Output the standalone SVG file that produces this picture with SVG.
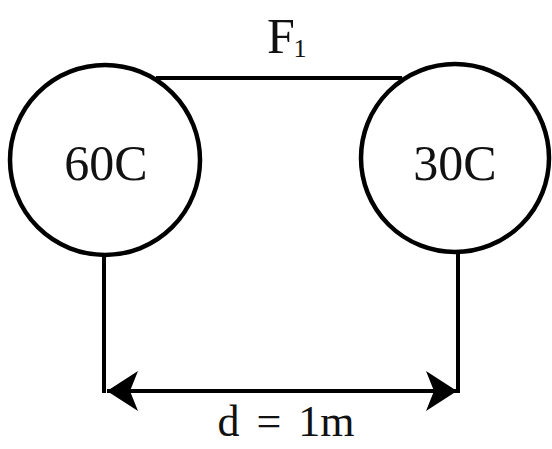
<svg xmlns="http://www.w3.org/2000/svg" width="552" height="449" viewBox="0 0 552 449">
<style>
.node{fill:none;stroke:#000;stroke-width:4.5}
.ln{fill:none;stroke:#000;stroke-width:4}
.t{font-family:"Liberation Serif","Times New Roman",serif;fill:#111;text-anchor:middle}
</style>
<defs>
<marker id="ah" viewBox="0 0 34 42" refX="33" refY="21" markerWidth="34" markerHeight="42" markerUnits="userSpaceOnUse" orient="auto-start-reverse">
<path d="M33,21 L2,1 L10,21 L2,41 Z" fill="#000"/>
</marker>
</defs>
<rect width="552" height="449" fill="#fff"/>
<g id="connectors">
<line class="ln" x1="156" y1="78" x2="402" y2="78"/>
<line class="ln" x1="104" y1="254" x2="104" y2="393"/>
<line class="ln" x1="458" y1="252" x2="458" y2="393"/>
<line class="ln" x1="107" y1="391" x2="457" y2="391" marker-start="url(#ah)" marker-end="url(#ah)"/>
</g>
<g id="charge1">
<circle class="node" cx="105" cy="160" r="95"/>
<text class="t" x="106" y="180" font-size="50">60C</text>
</g>
<g id="charge2">
<circle class="node" cx="455" cy="158" r="94"/>
<text class="t" x="455" y="180" font-size="50">30C</text>
</g>
<g id="labels">
<text class="t" x="281" y="53" font-size="50">F</text>
<text class="t" x="300" y="57" font-size="26">1</text>
<text class="t" x="286" y="436" font-size="44" word-spacing="6">d = 1m</text>
</g>
</svg>
